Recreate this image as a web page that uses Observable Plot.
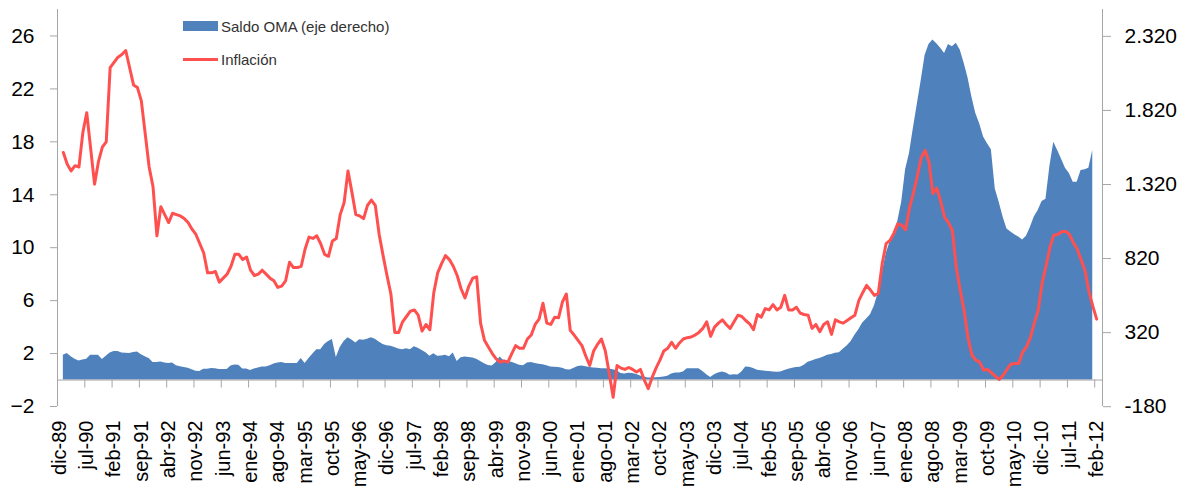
<!DOCTYPE html>
<html><head><meta charset="utf-8">
<script src="https://cdn.jsdelivr.net/npm/d3@7"></script>
<script src="https://cdn.jsdelivr.net/npm/@observablehq/plot@0.6"></script>
<style>
body{margin:0;background:#fff;}
#wrap{position:relative;width:1187px;height:490px;}
#legend{position:absolute;left:0;top:0;font-family:"Liberation Sans",Arial,sans-serif;font-size:15px;color:#333;}
.item{position:absolute;display:flex;align-items:center;height:18px;white-space:nowrap;}
.sw{display:inline-block;width:35px;margin-right:3px;}
</style></head><body>
<div id="wrap"><div id="chart"></div><div id="legend"></div></div>
<script>
// Month index: 0 = dic-89; series start at ene-90 (index 1)
const tickLabels = ["dic-89","jul-90","feb-91","sep-91","abr-92","nov-92","jun-93","ene-94","ago-94","mar-95","oct-95","may-96","dic-96","jul-97","feb-98","sep-98","abr-99","nov-99","jun-00","ene-01","ago-01","mar-02","oct-02","may-03","dic-03","jul-04","feb-05","sep-05","abr-06","nov-06","jun-07","ene-08","ago-08","mar-09","oct-09","may-10","dic-10","jul-11","feb-12"];

// Inflación (%), left axis, monthly from ene-90 to feb-12
const inflacion = [
17.2,16.3,15.8,16.2,16.1,18.7,20.2,17.5,14.8,16.5,
17.6,18.0,23.6,24.0,24.4,24.6,24.9,23.6,22.3,22.1,
21.1,18.6,16.1,14.6,10.9,13.1,12.5,11.9,12.6,12.5,
12.4,12.2,11.9,11.4,11.0,10.3,9.6,8.1,8.1,8.2,
7.4,7.7,8.0,8.6,9.5,9.5,9.1,9.3,8.3,7.9,
8.0,8.3,8.0,7.7,7.5,7.0,7.1,7.5,8.9,8.5,
8.5,8.6,9.9,10.8,10.7,10.9,10.3,9.5,9.35,10.5,
10.7,12.5,13.4,15.8,14.2,12.5,12.4,12.2,13.2,13.6,
13.2,11.0,9.4,7.9,6.5,3.6,3.6,4.4,4.8,5.2,
5.3,4.9,3.7,4.2,3.8,6.6,8.1,8.8,9.4,9.1,
8.6,7.9,6.9,6.2,7.1,7.7,7.8,4.3,3.0,2.5,
2.0,1.6,1.35,1.45,1.35,2.0,2.6,2.4,2.4,3.1,
3.4,4.2,4.6,5.8,4.3,4.2,4.75,4.7,5.9,6.5,
3.75,3.4,3.0,2.6,1.8,1.1,2.2,2.7,3.1,2.2,
0.5,-1.3,1.1,0.9,0.8,0.95,0.8,0.6,0.8,0.0,
-0.65,0.2,0.9,1.5,2.2,2.4,2.85,2.4,2.8,3.1,
3.2,3.25,3.4,3.6,3.9,4.4,3.3,4.0,4.3,4.55,
4.2,3.9,4.4,4.9,4.8,4.5,4.25,3.8,4.95,4.75,
5.4,5.3,5.7,5.3,5.5,6.4,5.3,5.3,5.5,5.05,
4.95,4.9,3.9,4.2,3.65,4.2,4.4,3.45,4.55,4.4,
4.3,4.5,4.7,4.9,6.0,6.6,7.15,6.8,6.4,6.55,
8.8,10.3,10.55,11.1,11.8,11.7,11.35,13.0,14.1,15.4,
16.8,17.35,16.5,14.1,14.5,13.5,12.3,11.9,11.3,8.5,
6.8,5.25,3.2,1.9,1.5,1.35,0.75,0.8,0.55,0.3,
0.05,0.35,0.8,1.2,1.25,1.25,2.1,2.5,3.2,4.3,
5.25,7.3,8.6,10.0,10.95,11.0,11.2,11.25,11.0,10.4,
9.9,9.1,8.3,6.7,5.6,4.6];

// Saldo OMA, right axis, monthly from ene-90 to ene-12
const saldoOMA = [
167,179,158,140,129,135,140,167,167,167,
138,160,182,193,193,183,180,179,186,190,
170,158,145,118,118,122,115,112,115,96,
90,84,80,70,60,58,72,72,78,76,
71,71,71,95,102,100,75,75,64,75,
82,88,88,97,108,115,118,112,111,111,
112,145,112,145,175,205,205,240,260,273,
152,220,260,286,270,250,272,268,275,286,
275,257,240,232,228,220,210,205,212,205,
225,215,200,185,160,178,160,162,167,158,
183,125,150,155,152,148,140,125,110,98,
95,118,155,130,125,120,110,100,97,115,
118,112,106,104,96,88,86,85,80,70,
68,80,92,95,90,85,82,79,77,76,
74,70,62,44,40,46,44,38,27,20,
14,14,15,17,20,26,40,47,48,55,
76,77,77,76,58,35,17,35,48,55,
48,32,36,34,55,88,86,78,66,63,
60,57,55,52,55,64,72,80,84,87,
100,120,128,138,146,155,167,173,180,185,
208,230,258,302,340,385,412,440,500,590,
720,850,930,990,1070,1200,1420,1530,1700,1860,
2020,2190,2265,2295,2270,2240,2205,2265,2250,2273,
2228,2140,2040,1910,1800,1730,1640,1595,1555,1290,
1200,1100,1020,1000,980,965,945,970,1030,1100,
1145,1205,1220,1440,1605,1550,1490,1430,1395,1335,
1336,1415,1420,1430,1549];

const leftTicks = [-2,2,6,10,14,18,22,26];
const rightTicks = [-180,320,820,1320,1820,2320];
const leftDomain = [-2, 28];
const rightDomain = [-180, 2500];
const K = (rightDomain[1]-rightDomain[0])/(leftDomain[1]-leftDomain[0]);
const xDomain = [-0.5, 267.5];
const labelIdx = tickLabels.map((_, k) => 7*k);
const tickBounds = tickLabels.slice(1).map((_, k) => 7*(k+1) - 0.5);

const inflRows = inflacion.map((v, j) => ({i: j+1, v}));
const omaRows = saldoOMA.map((v, j) => ({i: j+1, v}));

const axisGray = "#a6a6a6";
const blue = "#4F81BD";
const red = "#FF5050";
const fmtDot = n => (n < 0 ? "-" : "") + String(Math.abs(n)).replace(/\B(?=(\d{3})+(?!\d))/g, ".");

const chart = Plot.plot({
  width: 1187, height: 490,
  marginLeft: 57, marginRight: 85, marginTop: 9, marginBottom: 84,
  style: {fontFamily: "Liberation Sans, Arial, sans-serif", fontSize: "19px", color: "#000", background: "#fff"},
  x: {type: "linear", domain: xDomain, label: null},
  y: {domain: leftDomain, label: null},
  marks: [
    Plot.areaY(omaRows, {x: "i", y: d => d.v / K, fill: blue}),
    Plot.ruleX(xDomain, {stroke: axisGray, strokeWidth: 1}),
    Plot.ruleY([0], {stroke: axisGray, strokeWidth: 1}),
    Plot.ruleX(tickBounds, {x: d => d, y1: d => 0, y2: d => 0, insetBottom: -8, stroke: axisGray}),
    Plot.line(inflRows, {x: "i", y: "v", stroke: red, strokeWidth: 3, strokeLinejoin: "round"}),
    Plot.axisY(leftTicks, {anchor: "left", label: null, tickSize: 7, tickPadding: 16, stroke: axisGray, fill: "#000", fontSize: 21}),
    Plot.axisY(rightTicks.map(t => t / K), {anchor: "right", label: null, tickSize: 8, tickPadding: 14, stroke: axisGray, fill: "#000", fontSize: 21, tickFormat: d => fmtDot(Math.round(d * K))}),
    Plot.axisX(labelIdx, {anchor: "bottom", label: null, tickSize: 0, tickPadding: 14, tickRotate: -90, fill: "#000", fontSize: 20, tickFormat: d => tickLabels[d / 7]})
  ]
});
document.getElementById("chart").appendChild(chart);

const legend = document.getElementById("legend");
legend.innerHTML =
  `<div class="item" style="left:183px;top:17px;"><span class="sw" style="height:10px;background:${blue}"></span>Saldo OMA (eje derecho)</div>` +
  `<div class="item" style="left:183px;top:50px;"><span class="sw" style="height:3px;background:${red}"></span>Inflación</div>`;
</script>
</body></html>
